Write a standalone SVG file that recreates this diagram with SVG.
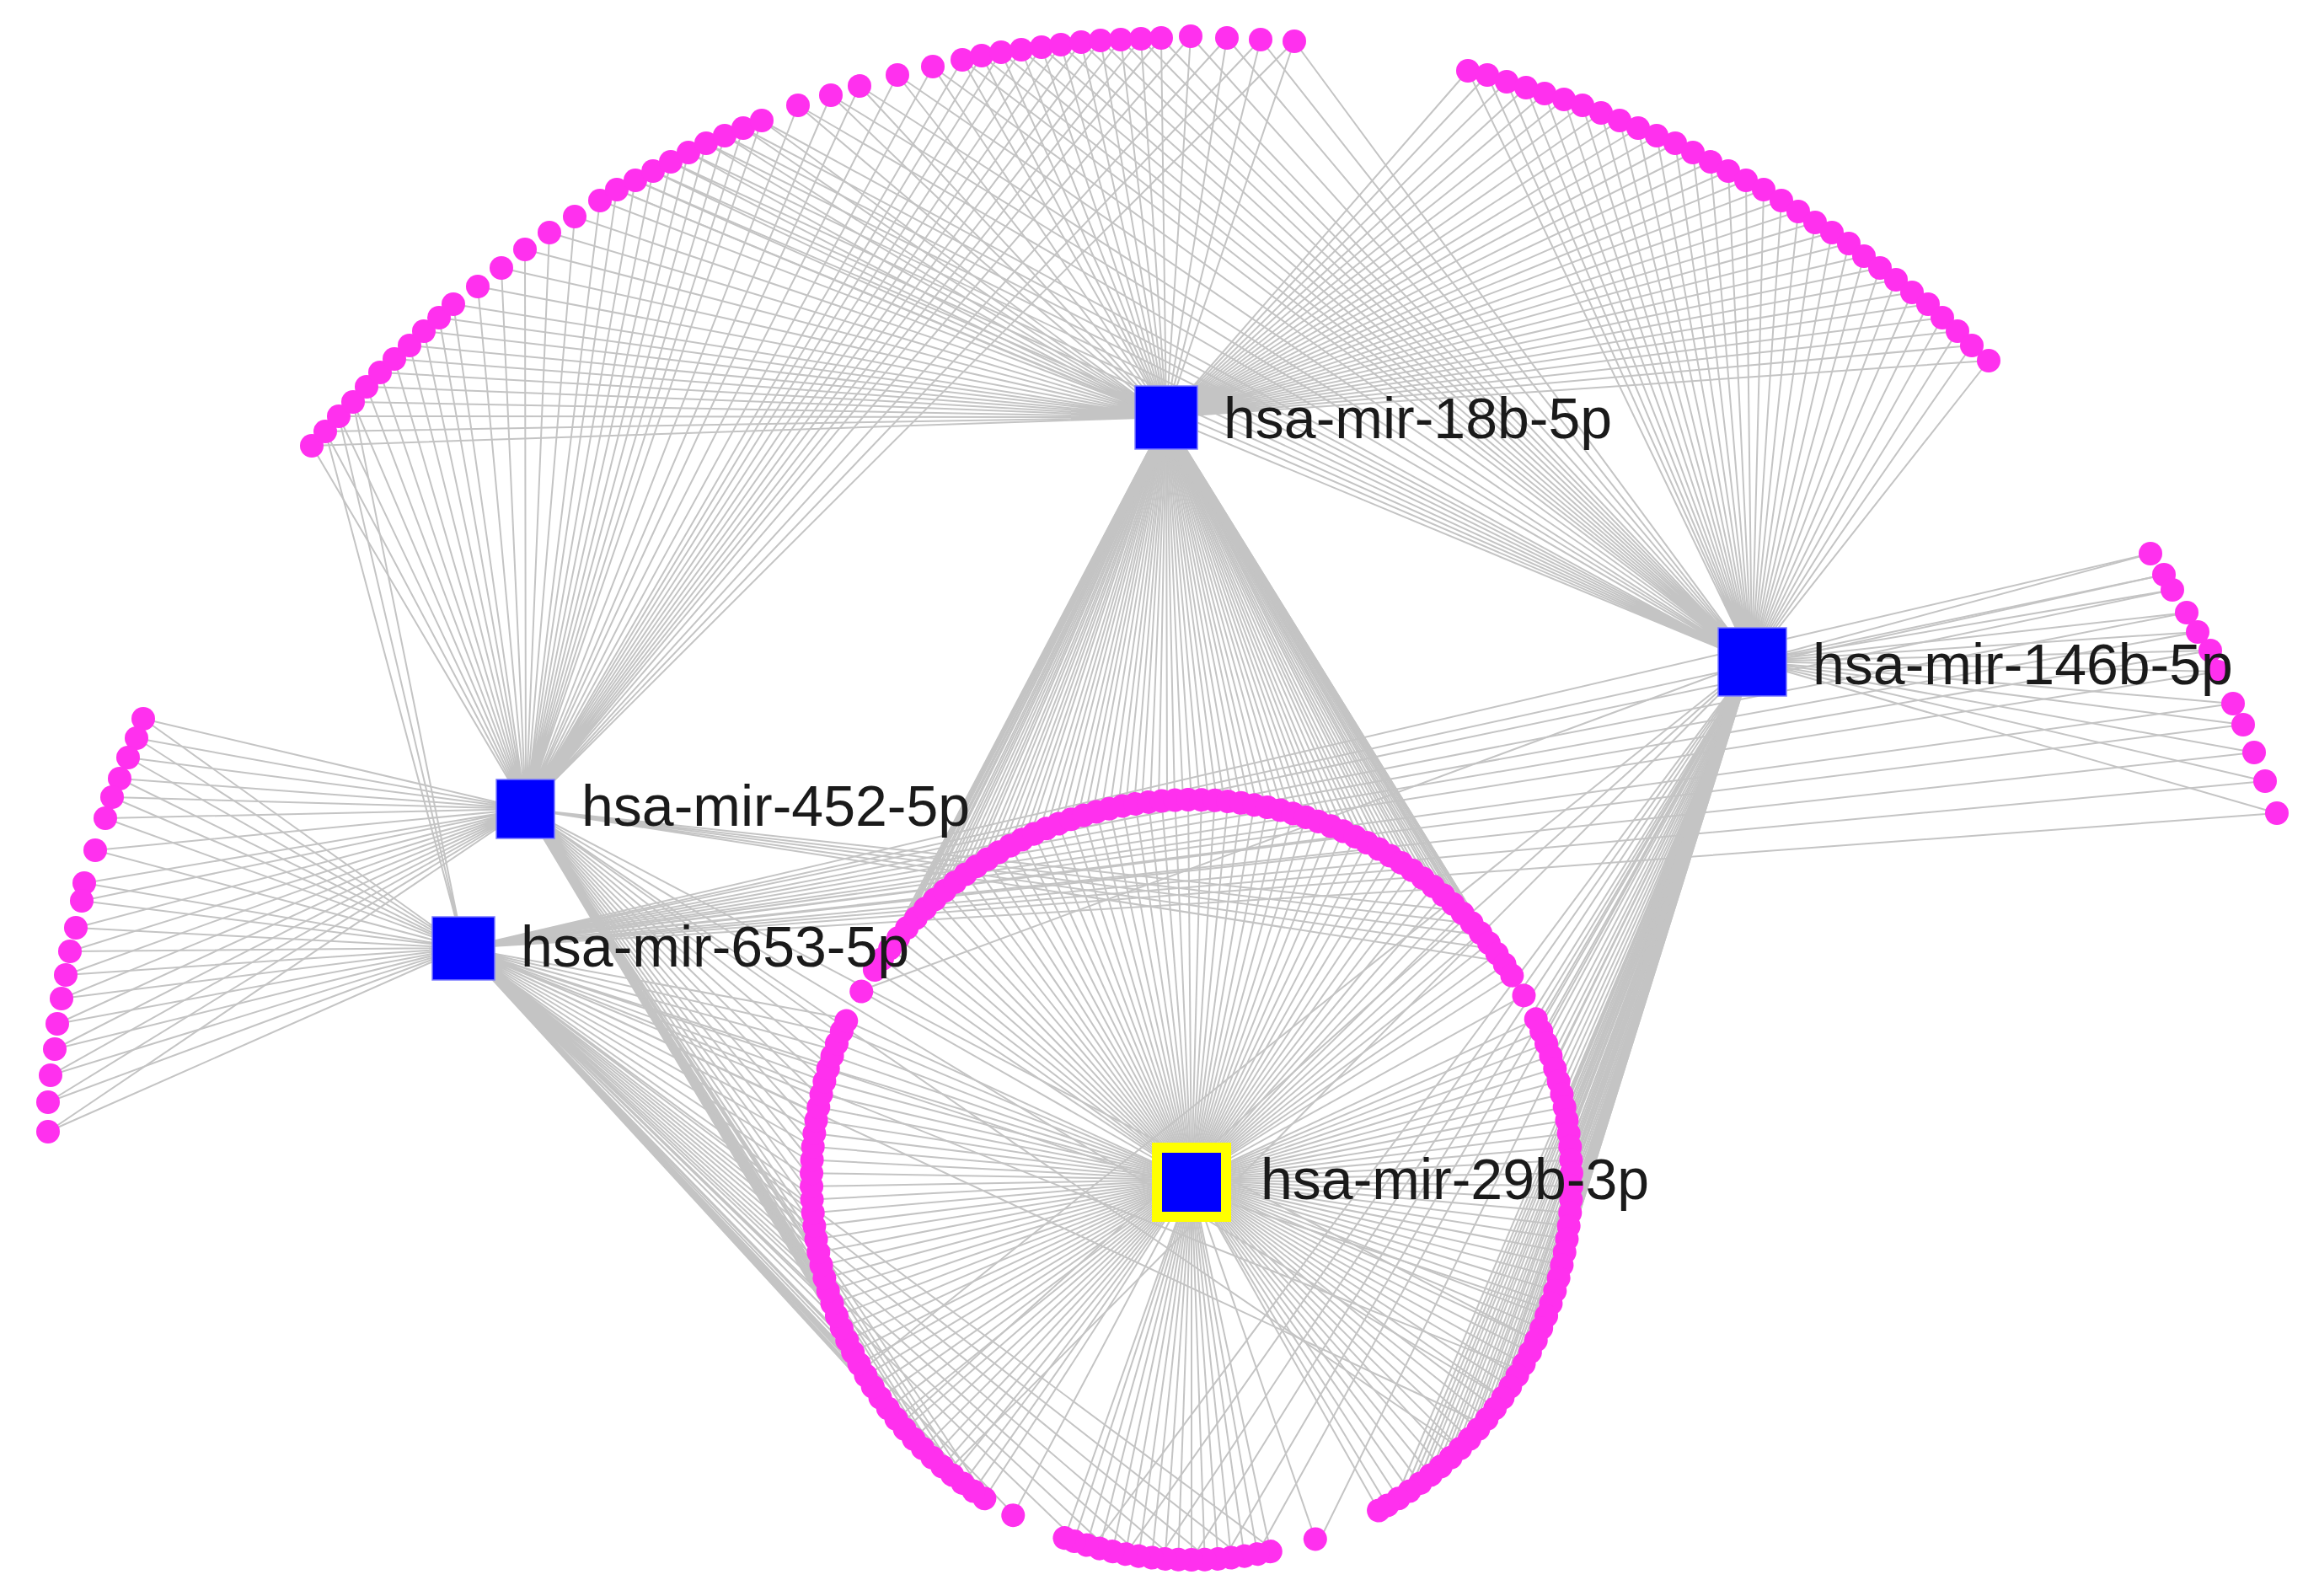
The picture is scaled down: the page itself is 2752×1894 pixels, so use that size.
<svg xmlns="http://www.w3.org/2000/svg" xmlns:xlink="http://www.w3.org/1999/xlink" width="2752" height="1894" viewBox="0 0 2752 1894">
<style>
.e{stroke:#c4c4c4;stroke-width:2;fill:none}
.t{font-family:"Liberation Sans",Arial,Helvetica,sans-serif;font-size:68px;fill:#1a1a1a}
.h{fill:#0000ff;stroke:#7a7aff;stroke-width:1.5}
</style>
<defs>
<circle id="a" cx="451" cy="0" r="14" fill="#ff30ee"/>
<line id="r" x1="0" y1="0" x2="451" y2="0" stroke="#c4c4c4" stroke-width="2"/>
</defs>
<rect width="2752" height="1894" fill="#ffffff"/>
<g id="edges">
<path class="e" d="M624 960L170 853M624 960L162 876M624 960L152 899M624 960L142 924M624 960L133 946M624 960L125 971M624 960L113 1009M624 960L100 1048M624 960L97 1069M624 960L90 1101M624 960L83 1129M624 960L78 1157M624 960L73 1185M624 960L68 1215M624 960L65 1245M624 960L60 1276M624 960L57 1308M624 960L57 1343"/>
<path class="e" d="M550 1125L170 853M550 1125L162 876M550 1125L152 899M550 1125L142 924M550 1125L133 946M550 1125L125 971M550 1125L113 1009M550 1125L100 1048M550 1125L97 1069M550 1125L90 1101M550 1125L83 1129M550 1125L78 1157M550 1125L73 1185M550 1125L68 1215M550 1125L65 1245M550 1125L60 1276M550 1125L57 1308M550 1125L57 1343"/>
<path class="e" d="M1384 495L370 529M1384 495L386 512M1384 495L402 494M1384 495L419 477M1384 495L435 459M1384 495L451 442M1384 495L468 426M1384 495L486 410M1384 495L503 393M1384 495L521 377M1384 495L538 361M1384 495L567 340M1384 495L595 318M1384 495L623 296M1384 495L652 276M1384 495L682 257M1384 495L712 238M1384 495L732 225M1384 495L754 214M1384 495L775 203M1384 495L796 192M1384 495L817 181M1384 495L838 170M1384 495L860 161M1384 495L882 152M1384 495L904 143M1384 495L947 125M1384 495L986 113M1384 495L1020 102M1384 495L1065 89M1384 495L1107 79M1384 495L1142 71M1384 495L1165 66M1384 495L1188 62M1384 495L1212 59M1384 495L1236 56M1384 495L1259 53M1384 495L1283 50M1384 495L1306 48M1384 495L1330 47M1384 495L1354 46M1384 495L1378 45M1384 495L1413 43M1384 495L1456 45M1384 495L1496 47M1384 495L1536 49"/>
<path class="e" d="M624 960L370 529M624 960L386 512M624 960L402 494M624 960L419 477M624 960L435 459M624 960L451 442M624 960L468 426M624 960L486 410M624 960L503 393M624 960L521 377M624 960L538 361M624 960L567 340M624 960L595 318M624 960L623 296M624 960L652 276M624 960L682 257M624 960L712 238M624 960L732 225M624 960L754 214M624 960L775 203M624 960L796 192M624 960L817 181M624 960L838 170M624 960L860 161M624 960L882 152M624 960L904 143M624 960L947 125M624 960L986 113M624 960L1020 102M624 960L1065 89M624 960L1107 79M624 960L1142 71M624 960L1165 66M624 960L1188 62M624 960L1212 59M624 960L1236 56M624 960L1259 53M624 960L1283 50M624 960L1306 48M624 960L1330 47M624 960L1354 46M624 960L1378 45M624 960L1413 43M624 960L1456 45M624 960L1496 47M624 960L1536 49"/>
<path class="e" d="M2079 785L732 225M2079 785L754 214M2079 785L775 203M2079 785L796 192M2079 785L817 181M2079 785L838 170M2079 785L860 161M2079 785L882 152M2079 785L904 143M2079 785L947 125M2079 785L986 113M2079 785L1020 102M2079 785L1065 89M2079 785L1107 79M2079 785L1142 71M2079 785L1165 66M2079 785L1188 62M2079 785L1212 59M2079 785L1236 56M2079 785L1259 53M2079 785L1283 50M2079 785L1306 48M2079 785L1330 47M2079 785L1354 46M2079 785L1378 45M2079 785L1413 43M2079 785L1456 45M2079 785L1496 47M2079 785L1536 49"/>
<path class="e" d="M550 1125L386 512M550 1125L402 494M550 1125L419 477"/>
<path class="e" d="M1384 495L1742 84M1384 495L1765 89M1384 495L1788 97M1384 495L1811 104M1384 495L1833 111M1384 495L1856 118M1384 495L1878 125M1384 495L1900 134M1384 495L1922 143M1384 495L1944 152M1384 495L1966 161M1384 495L1988 170M1384 495L2009 181M1384 495L2030 192M1384 495L2051 203M1384 495L2072 214M1384 495L2093 225M1384 495L2114 238M1384 495L2134 251M1384 495L2154 264M1384 495L2174 276M1384 495L2194 289M1384 495L2212 304M1384 495L2231 318M1384 495L2250 332M1384 495L2269 347M1384 495L2288 361M1384 495L2305 377M1384 495L2323 393M1384 495L2340 410M1384 495L2360 428"/>
<path class="e" d="M2079 785L1742 84M2079 785L1765 89M2079 785L1788 97M2079 785L1811 104M2079 785L1833 111M2079 785L1856 118M2079 785L1878 125M2079 785L1900 134M2079 785L1922 143M2079 785L1944 152M2079 785L1966 161M2079 785L1988 170M2079 785L2009 181M2079 785L2030 192M2079 785L2051 203M2079 785L2072 214M2079 785L2093 225M2079 785L2114 238M2079 785L2134 251M2079 785L2154 264M2079 785L2174 276M2079 785L2194 289M2079 785L2212 304M2079 785L2231 318M2079 785L2250 332M2079 785L2269 347M2079 785L2288 361M2079 785L2305 377M2079 785L2323 393M2079 785L2340 410M2079 785L2360 428"/>
<path class="e" d="M2079 785L2552 657M2079 785L2568 682M2079 785L2578 700M2079 785L2595 727M2079 785L2608 750M2079 785L2623 772M2079 785L2632 797M2079 785L2650 835M2079 785L2662 860M2079 785L2675 893M2079 785L2688 927M2079 785L2702 965"/>
<path class="e" d="M550 1125L2552 657M550 1125L2568 682M550 1125L2578 700M550 1125L2595 727M550 1125L2608 750M550 1125L2623 772M550 1125L2632 797M550 1125L2650 835M550 1125L2662 860M550 1125L2675 893M550 1125L2688 927M550 1125L2702 965"/>
<path class="e" d="M1384 495L1045 1141M1384 495L1057 1126M1384 495L1069 1110M1384 495L1082 1096M1384 495L1095 1081M1384 495L1110 1068M1384 495L1124 1055M1384 495L1140 1043M1384 495L1155 1031M1384 495L1172 1020M1384 495L1189 1009M1384 495L1206 1000M1384 495L1223 991M1384 495L1242 984M1384 495L1260 976M1384 495L1279 970M1384 495L1297 964M1384 495L1317 960M1384 495L1336 956M1384 495L1355 953M1384 495L1375 951M1384 495L1394 950M1384 495L1414 949M1384 495L1434 950M1384 495L1453 951M1384 495L1473 953M1384 495L1492 956M1384 495L1512 960M1384 495L1531 964M1384 495L1550 970M1384 495L1568 976M1384 495L1586 984M1384 495L1605 991M1384 495L1622 1000M1384 495L1640 1009M1384 495L1656 1020M1384 495L1673 1031M1384 495L1688 1043M1384 495L1704 1055M1384 495L1718 1068M1384 495L1733 1081M1384 495L1746 1096M1384 495L1760 1110M1384 495L1771 1126M1384 495L1783 1141M1384 495L1794 1158"/>
<path class="e" d="M1384 495L1051 1134M1384 495L1063 1118M1384 495L1076 1103M1384 495L1089 1089M1384 495L1103 1075M1384 495L1117 1062M1384 495L1132 1049M1384 495L1148 1037M1384 495L1164 1026M1384 495L1181 1015M1384 495L1198 1005M1384 495L1215 996M1384 495L1233 988M1384 495L1251 980M1384 495L1270 973M1384 495L1288 967M1384 495L1307 962M1384 495L1327 958M1384 495L1346 955M1384 495L1365 952M1384 495L1385 951M1384 495L1404 950M1384 495L1424 950M1384 495L1444 951M1384 495L1463 952M1384 495L1483 955M1384 495L1502 958M1384 495L1522 962M1384 495L1541 967M1384 495L1559 973M1384 495L1577 980M1384 495L1596 988M1384 495L1614 996M1384 495L1631 1005M1384 495L1648 1015M1384 495L1665 1026M1384 495L1681 1037M1384 495L1696 1049M1384 495L1711 1062M1384 495L1726 1075M1384 495L1740 1089M1384 495L1753 1103M1384 495L1766 1118M1384 495L1777 1134M1384 495L1789 1150"/>
<path class="e" d="M2079 785L1023 1175M2079 785L1823 1209M2079 785L1830 1228M2079 785L1838 1246M2079 785L1844 1265M2079 785L1850 1283M2079 785L1854 1303M2079 785L1858 1322M2079 785L1861 1341M2079 785L1863 1361M2079 785L1864 1380M2079 785L1865 1400M2079 785L1864 1420M2079 785L1863 1439M2079 785L1861 1459M2079 785L1858 1478M2079 785L1854 1498M2079 785L1850 1517M2079 785L1844 1536M2079 785L1838 1554M2079 785L1830 1572M2079 785L1823 1591M2079 785L1814 1608M2079 785L1805 1626M2079 785L1794 1642M2079 785L1783 1659M2079 785L1771 1674M2079 785L1760 1690M2079 785L1746 1704M2079 785L1733 1719M2079 785L1718 1732M2079 785L1704 1746M2079 785L1688 1757M2079 785L1673 1769M2079 785L1656 1780M2079 785L1568 1824M2079 785L1492 1844M2079 785L1453 1849M2079 785L1414 1851M2079 785L1375 1849M2079 785L1336 1844M2079 785L1297 1836M2079 785L1124 1746M2079 785L1069 1690M2079 785L1023 1626"/>
<path class="e" d="M2079 785L1827 1219M2079 785L1834 1237M2079 785L1841 1256M2079 785L1847 1274M2079 785L1852 1293M2079 785L1856 1313M2079 785L1860 1332M2079 785L1862 1351M2079 785L1864 1371M2079 785L1865 1390M2079 785L1865 1410M2079 785L1864 1430M2079 785L1862 1449M2079 785L1860 1469M2079 785L1856 1488M2079 785L1852 1508M2079 785L1847 1527M2079 785L1841 1545M2079 785L1834 1563M2079 785L1827 1582M2079 785L1819 1600M2079 785L1810 1617M2079 785L1800 1634M2079 785L1789 1651M2079 785L1777 1667M2079 785L1766 1682M2079 785L1753 1697M2079 785L1740 1712M2079 785L1726 1726M2079 785L1711 1739M2079 785L1696 1752M2079 785L1681 1763M2079 785L1665 1775"/>
<path class="e" d="M624 960L1733 1081M624 960L1746 1096M624 960L1760 1110M624 960L1771 1126M624 960L1783 1141M624 960L1172 1780M624 960L1140 1757M624 960L1110 1732M624 960L1082 1704M624 960L1057 1674M624 960L1034 1642M624 960L1014 1608M624 960L998 1572M624 960L984 1536M624 960L974 1498M624 960L967 1459M624 960L964 1420M624 960L964 1380M624 960L967 1341M624 960L974 1303M624 960L984 1265M624 960L998 1228M624 960L1823 1591M624 960L1783 1659M624 960L1733 1719M624 960L1155 1769M624 960L1124 1746M624 960L1095 1719M624 960L1069 1690M624 960L1045 1659M624 960L1023 1626M624 960L1005 1591M624 960L990 1554M624 960L978 1517M624 960L970 1478M624 960L965 1439M624 960L963 1400M624 960L965 1361M624 960L970 1322M624 960L978 1283M624 960L990 1246"/>
<path class="e" d="M550 1125L1568 976M550 1125L1605 991M550 1125L1640 1009M550 1125L1673 1031M550 1125L1704 1055M550 1125L1155 1769M550 1125L1124 1746M550 1125L1095 1719M550 1125L1069 1690M550 1125L1045 1659M550 1125L1023 1626M550 1125L1005 1591M550 1125L990 1554M550 1125L978 1517M550 1125L970 1478M550 1125L965 1439M550 1125L963 1400M550 1125L965 1361M550 1125L970 1322M550 1125L978 1283M550 1125L990 1246M550 1125L1005 1209M550 1125L1206 1800M550 1125L1512 1840M550 1125L1473 1847M550 1125L1434 1850M550 1125L1394 1850M550 1125L1355 1847M550 1125L1317 1840M550 1125L1279 1830M550 1125L1838 1554M550 1125L1805 1626M550 1125L1760 1690M550 1125L1172 1780M550 1125L1140 1757M550 1125L1110 1732M550 1125L1082 1704M550 1125L1057 1674M550 1125L1034 1642M550 1125L1014 1608M550 1125L998 1572M550 1125L984 1536M550 1125L974 1498M550 1125L967 1459M550 1125L964 1420M550 1125L964 1380M550 1125L967 1341M550 1125L974 1303M550 1125L984 1265M550 1125L998 1228"/>
<g id="radial-29b" transform="translate(1414 1400)">
<use href="#r" transform="rotate(-146.5)"/><use href="#r" transform="rotate(-144.5)"/><use href="#r" transform="rotate(-142.5)"/><use href="#r" transform="rotate(-140.5)"/><use href="#r" transform="rotate(-138.5)"/><use href="#r" transform="rotate(-136.5)"/><use href="#r" transform="rotate(-134.5)"/><use href="#r" transform="rotate(-132.5)"/><use href="#r" transform="rotate(-130.5)"/><use href="#r" transform="rotate(-128.5)"/><use href="#r" transform="rotate(-126.5)"/><use href="#r" transform="rotate(-124.5)"/><use href="#r" transform="rotate(-122.5)"/><use href="#r" transform="rotate(-120.5)"/><use href="#r" transform="rotate(-118.5)"/><use href="#r" transform="rotate(-116.5)"/><use href="#r" transform="rotate(-114.5)"/><use href="#r" transform="rotate(-112.5)"/><use href="#r" transform="rotate(-110.5)"/><use href="#r" transform="rotate(-108.5)"/><use href="#r" transform="rotate(-106.5)"/><use href="#r" transform="rotate(-104.5)"/><use href="#r" transform="rotate(-102.5)"/><use href="#r" transform="rotate(-100.5)"/><use href="#r" transform="rotate(-98.5)"/><use href="#r" transform="rotate(-96.5)"/><use href="#r" transform="rotate(-94.5)"/><use href="#r" transform="rotate(-92.5)"/><use href="#r" transform="rotate(-90.5)"/><use href="#r" transform="rotate(-88.5)"/><use href="#r" transform="rotate(-86.5)"/><use href="#r" transform="rotate(-84.5)"/><use href="#r" transform="rotate(-82.5)"/><use href="#r" transform="rotate(-80.5)"/><use href="#r" transform="rotate(-78.5)"/><use href="#r" transform="rotate(-76.5)"/><use href="#r" transform="rotate(-74.5)"/><use href="#r" transform="rotate(-72.5)"/><use href="#r" transform="rotate(-70.5)"/><use href="#r" transform="rotate(-68.5)"/><use href="#r" transform="rotate(-66.5)"/><use href="#r" transform="rotate(-64.5)"/><use href="#r" transform="rotate(-62.5)"/><use href="#r" transform="rotate(-60.5)"/><use href="#r" transform="rotate(-58.5)"/><use href="#r" transform="rotate(-56.5)"/><use href="#r" transform="rotate(-54.5)"/><use href="#r" transform="rotate(-52.5)"/><use href="#r" transform="rotate(-50.5)"/><use href="#r" transform="rotate(-48.5)"/><use href="#r" transform="rotate(-46.5)"/><use href="#r" transform="rotate(-44.5)"/><use href="#r" transform="rotate(-42.5)"/><use href="#r" transform="rotate(-40.5)"/><use href="#r" transform="rotate(-38.5)"/><use href="#r" transform="rotate(-36.5)"/><use href="#r" transform="rotate(-34.5)"/><use href="#r" transform="rotate(-32.5)"/>
<use href="#r" transform="rotate(-29)"/>
<use href="#r" transform="rotate(-25)"/><use href="#r" transform="rotate(-23)"/><use href="#r" transform="rotate(-21)"/><use href="#r" transform="rotate(-19)"/><use href="#r" transform="rotate(-17)"/><use href="#r" transform="rotate(-15)"/><use href="#r" transform="rotate(-13)"/><use href="#r" transform="rotate(-11)"/><use href="#r" transform="rotate(-9)"/><use href="#r" transform="rotate(-7)"/><use href="#r" transform="rotate(-5)"/><use href="#r" transform="rotate(-3)"/><use href="#r" transform="rotate(-1)"/><use href="#r" transform="rotate(1)"/><use href="#r" transform="rotate(3)"/><use href="#r" transform="rotate(5)"/><use href="#r" transform="rotate(7)"/><use href="#r" transform="rotate(9)"/><use href="#r" transform="rotate(11)"/><use href="#r" transform="rotate(13)"/><use href="#r" transform="rotate(15)"/><use href="#r" transform="rotate(17)"/><use href="#r" transform="rotate(19)"/><use href="#r" transform="rotate(21)"/><use href="#r" transform="rotate(23)"/><use href="#r" transform="rotate(25)"/><use href="#r" transform="rotate(27)"/><use href="#r" transform="rotate(29)"/><use href="#r" transform="rotate(31)"/><use href="#r" transform="rotate(33)"/><use href="#r" transform="rotate(35)"/><use href="#r" transform="rotate(37)"/><use href="#r" transform="rotate(39)"/><use href="#r" transform="rotate(41)"/><use href="#r" transform="rotate(43)"/><use href="#r" transform="rotate(45)"/><use href="#r" transform="rotate(47)"/><use href="#r" transform="rotate(49)"/><use href="#r" transform="rotate(51)"/><use href="#r" transform="rotate(53)"/><use href="#r" transform="rotate(55)"/><use href="#r" transform="rotate(57)"/><use href="#r" transform="rotate(59)"/><use href="#r" transform="rotate(60.5)"/>
<use href="#r" transform="rotate(71)"/>
<use href="#r" transform="rotate(78)"/><use href="#r" transform="rotate(80)"/><use href="#r" transform="rotate(82)"/><use href="#r" transform="rotate(84)"/><use href="#r" transform="rotate(86)"/><use href="#r" transform="rotate(88)"/><use href="#r" transform="rotate(90)"/><use href="#r" transform="rotate(92)"/><use href="#r" transform="rotate(94)"/><use href="#r" transform="rotate(96)"/><use href="#r" transform="rotate(98)"/><use href="#r" transform="rotate(100)"/><use href="#r" transform="rotate(102)"/><use href="#r" transform="rotate(104)"/><use href="#r" transform="rotate(106)"/><use href="#r" transform="rotate(108)"/><use href="#r" transform="rotate(109.5)"/>
<use href="#r" transform="rotate(118)"/>
<use href="#r" transform="rotate(123)"/><use href="#r" transform="rotate(125)"/><use href="#r" transform="rotate(127)"/><use href="#r" transform="rotate(129)"/><use href="#r" transform="rotate(131)"/><use href="#r" transform="rotate(133)"/><use href="#r" transform="rotate(135)"/><use href="#r" transform="rotate(137)"/><use href="#r" transform="rotate(139)"/><use href="#r" transform="rotate(141)"/><use href="#r" transform="rotate(143)"/><use href="#r" transform="rotate(145)"/><use href="#r" transform="rotate(147)"/><use href="#r" transform="rotate(149)"/><use href="#r" transform="rotate(151)"/><use href="#r" transform="rotate(153)"/><use href="#r" transform="rotate(155)"/><use href="#r" transform="rotate(157)"/><use href="#r" transform="rotate(159)"/><use href="#r" transform="rotate(161)"/><use href="#r" transform="rotate(163)"/><use href="#r" transform="rotate(165)"/><use href="#r" transform="rotate(167)"/><use href="#r" transform="rotate(169)"/><use href="#r" transform="rotate(171)"/><use href="#r" transform="rotate(173)"/><use href="#r" transform="rotate(175)"/><use href="#r" transform="rotate(177)"/><use href="#r" transform="rotate(179)"/><use href="#r" transform="rotate(181)"/><use href="#r" transform="rotate(183)"/><use href="#r" transform="rotate(185)"/><use href="#r" transform="rotate(187)"/><use href="#r" transform="rotate(189)"/><use href="#r" transform="rotate(191)"/><use href="#r" transform="rotate(193)"/><use href="#r" transform="rotate(195)"/><use href="#r" transform="rotate(197)"/><use href="#r" transform="rotate(199)"/><use href="#r" transform="rotate(201)"/><use href="#r" transform="rotate(203)"/><use href="#r" transform="rotate(204.7)"/>
<use href="#r" transform="rotate(209.7)"/>
</g>
</g>
<g id="genes-outer" fill="#ff30ee">
<circle id="l1" cx="170" cy="853" r="14"/><circle id="l2" cx="162" cy="876" r="14"/><circle id="l3" cx="152" cy="899" r="14"/><circle id="l4" cx="142" cy="924" r="14"/><circle id="l5" cx="133" cy="946" r="14"/><circle id="l6" cx="125" cy="971" r="14"/><circle id="l7" cx="113" cy="1009" r="14"/><circle id="l8" cx="100" cy="1048" r="14"/><circle id="l9" cx="97" cy="1069" r="14"/><circle id="l10" cx="90" cy="1101" r="14"/><circle id="l11" cx="83" cy="1129" r="14"/><circle id="l12" cx="78" cy="1157" r="14"/><circle id="l13" cx="73" cy="1185" r="14"/><circle id="l14" cx="68" cy="1215" r="14"/><circle id="l15" cx="65" cy="1245" r="14"/><circle id="l16" cx="60" cy="1276" r="14"/><circle id="l17" cx="57" cy="1308" r="14"/><circle id="l18" cx="57" cy="1343" r="14"/>
<circle id="t1" cx="370" cy="529" r="14"/><circle id="t2" cx="386" cy="512" r="14"/><circle id="t3" cx="402" cy="494" r="14"/><circle id="t4" cx="419" cy="477" r="14"/><circle id="t5" cx="435" cy="459" r="14"/><circle id="t6" cx="451" cy="442" r="14"/><circle id="t7" cx="468" cy="426" r="14"/><circle id="t8" cx="486" cy="410" r="14"/><circle id="t9" cx="503" cy="393" r="14"/><circle id="t10" cx="521" cy="377" r="14"/><circle id="t11" cx="538" cy="361" r="14"/><circle id="t12" cx="567" cy="340" r="14"/><circle id="t13" cx="595" cy="318" r="14"/><circle id="t14" cx="623" cy="296" r="14"/><circle id="t15" cx="652" cy="276" r="14"/><circle id="t16" cx="682" cy="257" r="14"/><circle id="t17" cx="712" cy="238" r="14"/><circle id="t18" cx="732" cy="225" r="14"/><circle id="t19" cx="754" cy="214" r="14"/><circle id="t20" cx="775" cy="203" r="14"/><circle id="t21" cx="796" cy="192" r="14"/><circle id="t22" cx="817" cy="181" r="14"/><circle id="t23" cx="838" cy="170" r="14"/><circle id="t24" cx="860" cy="161" r="14"/><circle id="t25" cx="882" cy="152" r="14"/><circle id="t26" cx="904" cy="143" r="14"/><circle id="t27" cx="947" cy="125" r="14"/><circle id="t28" cx="986" cy="113" r="14"/><circle id="t29" cx="1020" cy="102" r="14"/><circle id="t30" cx="1065" cy="89" r="14"/><circle id="t31" cx="1107" cy="79" r="14"/><circle id="t32" cx="1142" cy="71" r="14"/><circle id="t33" cx="1165" cy="66" r="14"/><circle id="t34" cx="1188" cy="62" r="14"/><circle id="t35" cx="1212" cy="59" r="14"/><circle id="t36" cx="1236" cy="56" r="14"/><circle id="t37" cx="1259" cy="53" r="14"/><circle id="t38" cx="1283" cy="50" r="14"/><circle id="t39" cx="1306" cy="48" r="14"/><circle id="t40" cx="1330" cy="47" r="14"/><circle id="t41" cx="1354" cy="46" r="14"/><circle id="t42" cx="1378" cy="45" r="14"/><circle id="t43" cx="1413" cy="43" r="14"/><circle id="t44" cx="1456" cy="45" r="14"/><circle id="t45" cx="1496" cy="47" r="14"/><circle id="t46" cx="1536" cy="49" r="14"/>
<circle id="u1" cx="1742" cy="84" r="14"/><circle id="u2" cx="1765" cy="89" r="14"/><circle id="u3" cx="1788" cy="97" r="14"/><circle id="u4" cx="1811" cy="104" r="14"/><circle id="u5" cx="1833" cy="111" r="14"/><circle id="u6" cx="1856" cy="118" r="14"/><circle id="u7" cx="1878" cy="125" r="14"/><circle id="u8" cx="1900" cy="134" r="14"/><circle id="u9" cx="1922" cy="143" r="14"/><circle id="u10" cx="1944" cy="152" r="14"/><circle id="u11" cx="1966" cy="161" r="14"/><circle id="u12" cx="1988" cy="170" r="14"/><circle id="u13" cx="2009" cy="181" r="14"/><circle id="u14" cx="2030" cy="192" r="14"/><circle id="u15" cx="2051" cy="203" r="14"/><circle id="u16" cx="2072" cy="214" r="14"/><circle id="u17" cx="2093" cy="225" r="14"/><circle id="u18" cx="2114" cy="238" r="14"/><circle id="u19" cx="2134" cy="251" r="14"/><circle id="u20" cx="2154" cy="264" r="14"/><circle id="u21" cx="2174" cy="276" r="14"/><circle id="u22" cx="2194" cy="289" r="14"/><circle id="u23" cx="2212" cy="304" r="14"/><circle id="u24" cx="2231" cy="318" r="14"/><circle id="u25" cx="2250" cy="332" r="14"/><circle id="u26" cx="2269" cy="347" r="14"/><circle id="u27" cx="2288" cy="361" r="14"/><circle id="u28" cx="2305" cy="377" r="14"/><circle id="u29" cx="2323" cy="393" r="14"/><circle id="u30" cx="2340" cy="410" r="14"/><circle id="u31" cx="2360" cy="428" r="14"/>
<circle id="w1" cx="2552" cy="657" r="14"/><circle id="w2" cx="2568" cy="682" r="14"/><circle id="w3" cx="2578" cy="700" r="14"/><circle id="w4" cx="2595" cy="727" r="14"/><circle id="w5" cx="2608" cy="750" r="14"/><circle id="w6" cx="2623" cy="772" r="14"/><circle id="w7" cx="2632" cy="797" r="14"/><circle id="w8" cx="2650" cy="835" r="14"/><circle id="w9" cx="2662" cy="860" r="14"/><circle id="w10" cx="2675" cy="893" r="14"/><circle id="w11" cx="2688" cy="927" r="14"/><circle id="w12" cx="2702" cy="965" r="14"/>
</g>
<g id="genes-inner" transform="translate(1414 1400)">
<use id="i1" href="#a" transform="rotate(-146.5)"/><use id="i2" href="#a" transform="rotate(-144.5)"/><use id="i3" href="#a" transform="rotate(-142.5)"/><use id="i4" href="#a" transform="rotate(-140.5)"/><use id="i5" href="#a" transform="rotate(-138.5)"/><use id="i6" href="#a" transform="rotate(-136.5)"/><use id="i7" href="#a" transform="rotate(-134.5)"/><use id="i8" href="#a" transform="rotate(-132.5)"/><use id="i9" href="#a" transform="rotate(-130.5)"/><use id="i10" href="#a" transform="rotate(-128.5)"/><use id="i11" href="#a" transform="rotate(-126.5)"/><use id="i12" href="#a" transform="rotate(-124.5)"/><use id="i13" href="#a" transform="rotate(-122.5)"/><use id="i14" href="#a" transform="rotate(-120.5)"/><use id="i15" href="#a" transform="rotate(-118.5)"/><use id="i16" href="#a" transform="rotate(-116.5)"/><use id="i17" href="#a" transform="rotate(-114.5)"/><use id="i18" href="#a" transform="rotate(-112.5)"/><use id="i19" href="#a" transform="rotate(-110.5)"/><use id="i20" href="#a" transform="rotate(-108.5)"/><use id="i21" href="#a" transform="rotate(-106.5)"/><use id="i22" href="#a" transform="rotate(-104.5)"/><use id="i23" href="#a" transform="rotate(-102.5)"/><use id="i24" href="#a" transform="rotate(-100.5)"/><use id="i25" href="#a" transform="rotate(-98.5)"/><use id="i26" href="#a" transform="rotate(-96.5)"/><use id="i27" href="#a" transform="rotate(-94.5)"/><use id="i28" href="#a" transform="rotate(-92.5)"/><use id="i29" href="#a" transform="rotate(-90.5)"/><use id="i30" href="#a" transform="rotate(-88.5)"/><use id="i31" href="#a" transform="rotate(-86.5)"/><use id="i32" href="#a" transform="rotate(-84.5)"/><use id="i33" href="#a" transform="rotate(-82.5)"/><use id="i34" href="#a" transform="rotate(-80.5)"/><use id="i35" href="#a" transform="rotate(-78.5)"/><use id="i36" href="#a" transform="rotate(-76.5)"/><use id="i37" href="#a" transform="rotate(-74.5)"/><use id="i38" href="#a" transform="rotate(-72.5)"/><use id="i39" href="#a" transform="rotate(-70.5)"/><use id="i40" href="#a" transform="rotate(-68.5)"/><use id="i41" href="#a" transform="rotate(-66.5)"/><use id="i42" href="#a" transform="rotate(-64.5)"/><use id="i43" href="#a" transform="rotate(-62.5)"/><use id="i44" href="#a" transform="rotate(-60.5)"/><use id="i45" href="#a" transform="rotate(-58.5)"/><use id="i46" href="#a" transform="rotate(-56.5)"/><use id="i47" href="#a" transform="rotate(-54.5)"/><use id="i48" href="#a" transform="rotate(-52.5)"/><use id="i49" href="#a" transform="rotate(-50.5)"/><use id="i50" href="#a" transform="rotate(-48.5)"/><use id="i51" href="#a" transform="rotate(-46.5)"/><use id="i52" href="#a" transform="rotate(-44.5)"/><use id="i53" href="#a" transform="rotate(-42.5)"/><use id="i54" href="#a" transform="rotate(-40.5)"/><use id="i55" href="#a" transform="rotate(-38.5)"/><use id="i56" href="#a" transform="rotate(-36.5)"/><use id="i57" href="#a" transform="rotate(-34.5)"/><use id="i58" href="#a" transform="rotate(-32.5)"/>
<use id="i59" href="#a" transform="rotate(-29)"/>
<use id="i60" href="#a" transform="rotate(-25)"/><use id="i61" href="#a" transform="rotate(-23)"/><use id="i62" href="#a" transform="rotate(-21)"/><use id="i63" href="#a" transform="rotate(-19)"/><use id="i64" href="#a" transform="rotate(-17)"/><use id="i65" href="#a" transform="rotate(-15)"/><use id="i66" href="#a" transform="rotate(-13)"/><use id="i67" href="#a" transform="rotate(-11)"/><use id="i68" href="#a" transform="rotate(-9)"/><use id="i69" href="#a" transform="rotate(-7)"/><use id="i70" href="#a" transform="rotate(-5)"/><use id="i71" href="#a" transform="rotate(-3)"/><use id="i72" href="#a" transform="rotate(-1)"/><use id="i73" href="#a" transform="rotate(1)"/><use id="i74" href="#a" transform="rotate(3)"/><use id="i75" href="#a" transform="rotate(5)"/><use id="i76" href="#a" transform="rotate(7)"/><use id="i77" href="#a" transform="rotate(9)"/><use id="i78" href="#a" transform="rotate(11)"/><use id="i79" href="#a" transform="rotate(13)"/><use id="i80" href="#a" transform="rotate(15)"/><use id="i81" href="#a" transform="rotate(17)"/><use id="i82" href="#a" transform="rotate(19)"/><use id="i83" href="#a" transform="rotate(21)"/><use id="i84" href="#a" transform="rotate(23)"/><use id="i85" href="#a" transform="rotate(25)"/><use id="i86" href="#a" transform="rotate(27)"/><use id="i87" href="#a" transform="rotate(29)"/><use id="i88" href="#a" transform="rotate(31)"/><use id="i89" href="#a" transform="rotate(33)"/><use id="i90" href="#a" transform="rotate(35)"/><use id="i91" href="#a" transform="rotate(37)"/><use id="i92" href="#a" transform="rotate(39)"/><use id="i93" href="#a" transform="rotate(41)"/><use id="i94" href="#a" transform="rotate(43)"/><use id="i95" href="#a" transform="rotate(45)"/><use id="i96" href="#a" transform="rotate(47)"/><use id="i97" href="#a" transform="rotate(49)"/><use id="i98" href="#a" transform="rotate(51)"/><use id="i99" href="#a" transform="rotate(53)"/><use id="i100" href="#a" transform="rotate(55)"/><use id="i101" href="#a" transform="rotate(57)"/><use id="i102" href="#a" transform="rotate(59)"/><use id="i103" href="#a" transform="rotate(60.5)"/>
<use id="i104" href="#a" transform="rotate(71)"/>
<use id="i105" href="#a" transform="rotate(78)"/><use id="i106" href="#a" transform="rotate(80)"/><use id="i107" href="#a" transform="rotate(82)"/><use id="i108" href="#a" transform="rotate(84)"/><use id="i109" href="#a" transform="rotate(86)"/><use id="i110" href="#a" transform="rotate(88)"/><use id="i111" href="#a" transform="rotate(90)"/><use id="i112" href="#a" transform="rotate(92)"/><use id="i113" href="#a" transform="rotate(94)"/><use id="i114" href="#a" transform="rotate(96)"/><use id="i115" href="#a" transform="rotate(98)"/><use id="i116" href="#a" transform="rotate(100)"/><use id="i117" href="#a" transform="rotate(102)"/><use id="i118" href="#a" transform="rotate(104)"/><use id="i119" href="#a" transform="rotate(106)"/><use id="i120" href="#a" transform="rotate(108)"/><use id="i121" href="#a" transform="rotate(109.5)"/>
<use id="i122" href="#a" transform="rotate(118)"/>
<use id="i123" href="#a" transform="rotate(123)"/><use id="i124" href="#a" transform="rotate(125)"/><use id="i125" href="#a" transform="rotate(127)"/><use id="i126" href="#a" transform="rotate(129)"/><use id="i127" href="#a" transform="rotate(131)"/><use id="i128" href="#a" transform="rotate(133)"/><use id="i129" href="#a" transform="rotate(135)"/><use id="i130" href="#a" transform="rotate(137)"/><use id="i131" href="#a" transform="rotate(139)"/><use id="i132" href="#a" transform="rotate(141)"/><use id="i133" href="#a" transform="rotate(143)"/><use id="i134" href="#a" transform="rotate(145)"/><use id="i135" href="#a" transform="rotate(147)"/><use id="i136" href="#a" transform="rotate(149)"/><use id="i137" href="#a" transform="rotate(151)"/><use id="i138" href="#a" transform="rotate(153)"/><use id="i139" href="#a" transform="rotate(155)"/><use id="i140" href="#a" transform="rotate(157)"/><use id="i141" href="#a" transform="rotate(159)"/><use id="i142" href="#a" transform="rotate(161)"/><use id="i143" href="#a" transform="rotate(163)"/><use id="i144" href="#a" transform="rotate(165)"/><use id="i145" href="#a" transform="rotate(167)"/><use id="i146" href="#a" transform="rotate(169)"/><use id="i147" href="#a" transform="rotate(171)"/><use id="i148" href="#a" transform="rotate(173)"/><use id="i149" href="#a" transform="rotate(175)"/><use id="i150" href="#a" transform="rotate(177)"/><use id="i151" href="#a" transform="rotate(179)"/><use id="i152" href="#a" transform="rotate(181)"/><use id="i153" href="#a" transform="rotate(183)"/><use id="i154" href="#a" transform="rotate(185)"/><use id="i155" href="#a" transform="rotate(187)"/><use id="i156" href="#a" transform="rotate(189)"/><use id="i157" href="#a" transform="rotate(191)"/><use id="i158" href="#a" transform="rotate(193)"/><use id="i159" href="#a" transform="rotate(195)"/><use id="i160" href="#a" transform="rotate(197)"/><use id="i161" href="#a" transform="rotate(199)"/><use id="i162" href="#a" transform="rotate(201)"/><use id="i163" href="#a" transform="rotate(203)"/><use id="i164" href="#a" transform="rotate(204.7)"/>
<use id="i165" href="#a" transform="rotate(209.7)"/>
</g>
<g id="mir-18b-5p"><rect class="h" x="1347" y="458" width="74" height="75"/><text class="t" x="1452" y="520">hsa-mir-18b-5p</text></g>
<g id="mir-146b-5p"><rect class="h" x="2039" y="745" width="81" height="81"/><text class="t" x="2151" y="812">hsa-mir-146b-5p</text></g>
<g id="mir-452-5p"><rect class="h" x="589" y="925" width="69" height="70"/><text class="t" x="690" y="980">hsa-mir-452-5p</text></g>
<g id="mir-653-5p"><rect class="h" x="513" y="1088" width="74" height="75"/><text class="t" x="618" y="1147">hsa-mir-653-5p</text></g>
<g id="mir-29b-3p"><rect x="1373" y="1362" width="82" height="82" fill="#0000ff" stroke="#ffff00" stroke-width="12"/><text class="t" x="1496" y="1423">hsa-mir-29b-3p</text></g>
</svg>
